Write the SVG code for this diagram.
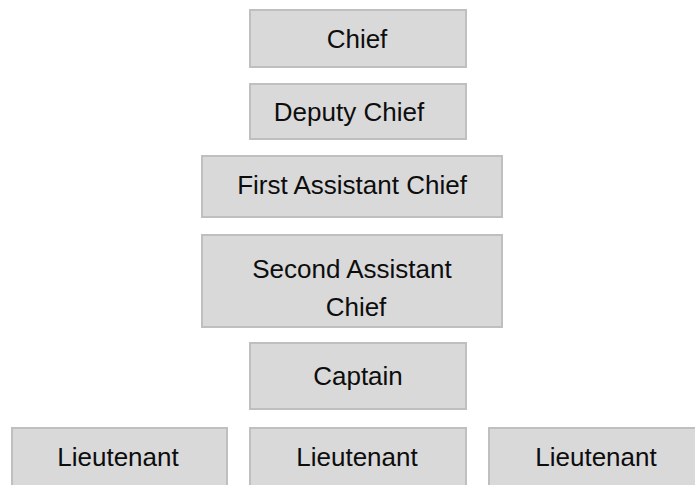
<svg xmlns="http://www.w3.org/2000/svg" width="695" height="485" viewBox="0 0 695 485">
  <style>
    .box { fill: #d9d9d9; stroke: #bfbfbf; stroke-width: 2; }
    .lbl { font-family: "Liberation Sans", Arial, sans-serif; font-size: 26px; fill: #0d0d0d; text-anchor: middle; }
  </style>
  <rect width="695" height="485" fill="#ffffff"/>

  <g id="chief">
    <rect class="box" x="250" y="10" width="216" height="57"/>
    <text class="lbl" x="357" y="48">Chief</text>
  </g>

  <g id="deputy-chief">
    <rect class="box" x="250" y="84" width="216" height="55"/>
    <text class="lbl" x="349" y="121">Deputy Chief</text>
  </g>

  <g id="first-assistant-chief">
    <rect class="box" x="202" y="156" width="300" height="61"/>
    <text class="lbl" x="352" y="194">First Assistant Chief</text>
  </g>

  <g id="second-assistant-chief">
    <rect class="box" x="202" y="235" width="300" height="92"/>
    <text class="lbl" x="352" y="278">Second Assistant</text>
    <text class="lbl" x="356" y="316">Chief</text>
  </g>

  <g id="captain">
    <rect class="box" x="250" y="343" width="216" height="66"/>
    <text class="lbl" x="358" y="385">Captain</text>
  </g>

  <g id="lieutenant-1">
    <rect class="box" x="12" y="428" width="215" height="68"/>
    <text class="lbl" x="118" y="466">Lieutenant</text>
  </g>

  <g id="lieutenant-2">
    <rect class="box" x="250" y="428" width="216" height="68"/>
    <text class="lbl" x="357" y="466">Lieutenant</text>
  </g>

  <g id="lieutenant-3">
    <rect class="box" x="489" y="428" width="216" height="68"/>
    <text class="lbl" x="596" y="466">Lieutenant</text>
  </g>
</svg>
